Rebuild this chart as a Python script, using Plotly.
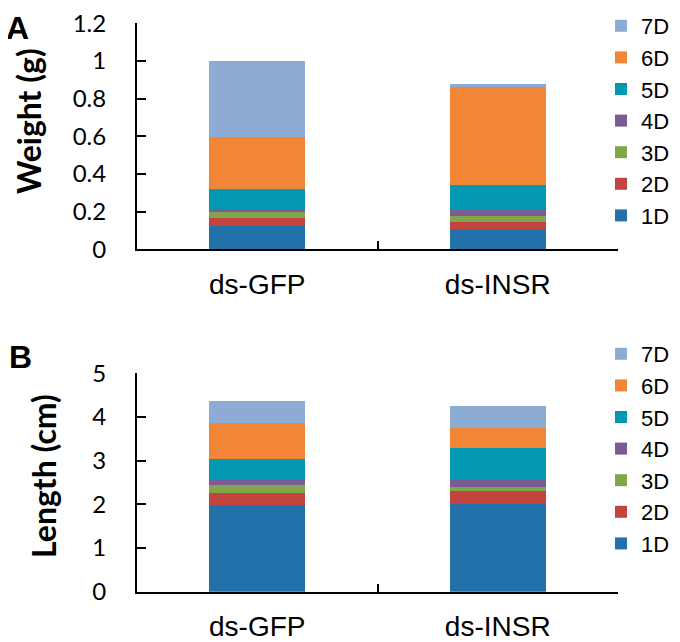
import plotly.graph_objects as go

groups = ["ds-GFP", "ds-INSR"]
days = ["1D", "2D", "3D", "4D", "5D", "6D", "7D"]
colors = ["#2271AB", "#C3433F", "#80A54A", "#7B5B93", "#0399B3", "#F28636", "#8CACD3"]

# per-day increments
weight_gfp = [0.124, 0.042, 0.034, 0.007, 0.112, 0.277, 0.404]
weight_insr = [0.109, 0.036, 0.033, 0.031, 0.131, 0.520, 0.018]
length_gfp = [1.98, 0.28, 0.18, 0.15, 0.45, 0.82, 0.51]
length_insr = [2.00, 0.31, 0.08, 0.16, 0.73, 0.47, 0.50]

weight_ticks = [0, 0.2, 0.4, 0.6, 0.8, 1, 1.2]
length_ticks = [0, 1, 2, 3, 4, 5]

# the page body has an 8px margin, so the figure is 8px smaller and shifted
OFF = 8
W, H = 680 - OFF, 642 - OFF


def px(x):
    return (x - OFF) / W


def py(y):
    return (H - (y - OFF)) / H


fig = go.Figure()

for i, d in enumerate(days):
    fig.add_trace(go.Bar(
        x=groups, y=[weight_gfp[i], weight_insr[i]], name=d,
        marker_color=colors[i], marker_line_width=0,
        xaxis="x", yaxis="y", legend="legend", width=0.4))
for i, d in enumerate(days):
    fig.add_trace(go.Bar(
        x=groups, y=[length_gfp[i], length_insr[i]], name=d,
        marker_color=colors[i], marker_line_width=0,
        xaxis="x2", yaxis="y2", legend="legend2", width=0.4))

xdom = [px(137), px(618)]
ydomA = [py(249.3), py(23.3)]
ydomB = [py(591.7), py(373.3)]

xax = dict(domain=xdom, type="category", range=[-0.5, 1.5], showline=True,
           linecolor="black", linewidth=2, ticks="inside", tickson="boundaries",
           ticklen=8, tickwidth=2, tickcolor="black", showgrid=False, automargin=False,
           tickfont=dict(family="Liberation Sans, Arial", size=28, color="black"),
           ticklabelstandoff=9, ticklabeloverflow="allow")
yax = dict(showline=True, linecolor="black", linewidth=2, ticks="inside",
           ticklen=9, tickwidth=2, tickcolor="black", showgrid=False, zeroline=False,
           automargin=False, tickfont=dict(family="Lato", size=24, color="black"),
           ticklabelstandoff=24, tickmode="array", ticklabeloverflow="allow")

legend_style = dict(traceorder="reversed", bgcolor="rgba(0,0,0,0)",
                    font=dict(family="Liberation Sans, Arial", size=22, color="black"),
                    xanchor="left", yanchor="top", x=px(621 - 20))

fig.update_layout(
    width=W, height=H, margin=dict(l=0, r=0, t=0, b=0, autoexpand=False),
    paper_bgcolor="white", plot_bgcolor="white", barmode="stack",
    xaxis=dict(xax, anchor="y"),
    yaxis=dict(yax, domain=ydomA, range=[0, weight_ticks[-1]], anchor="x",
               tickvals=weight_ticks, ticktext=[str(t) for t in weight_ticks]),
    xaxis2=dict(xax, anchor="y2"),
    yaxis2=dict(yax, domain=ydomB, range=[0, length_ticks[-1]], anchor="x2",
                tickvals=length_ticks, ticktext=[str(t) for t in length_ticks]),
    legend=dict(legend_style, y=py(5)),
    legend2=dict(legend_style, y=py(333)),
    showlegend=True,
)

title_font = dict(family="Lato", size=32, color="black", weight="bold")
fig.add_annotation(text="Weight (g)", textangle=-90, x=px(28), y=py(121),
                   xanchor="center", yanchor="middle",
                   xref="paper", yref="paper", showarrow=False, font=title_font)
fig.add_annotation(text="Length (cm)", textangle=-90, x=px(43), y=py(476),
                   xanchor="center", yanchor="middle",
                   xref="paper", yref="paper", showarrow=False, font=title_font)

panel_font = dict(family="Liberation Sans, Arial", size=32, color="black", weight="bold")
fig.add_annotation(text="A", x=px(17), y=1, xanchor="center", yanchor="top",
                   xref="paper", yref="paper", showarrow=False, font=panel_font)
fig.add_annotation(text="B", x=px(20), y=py(357), xanchor="center", yanchor="middle",
                   xref="paper", yref="paper", showarrow=False, font=panel_font)

fig.write_html("out.html")
